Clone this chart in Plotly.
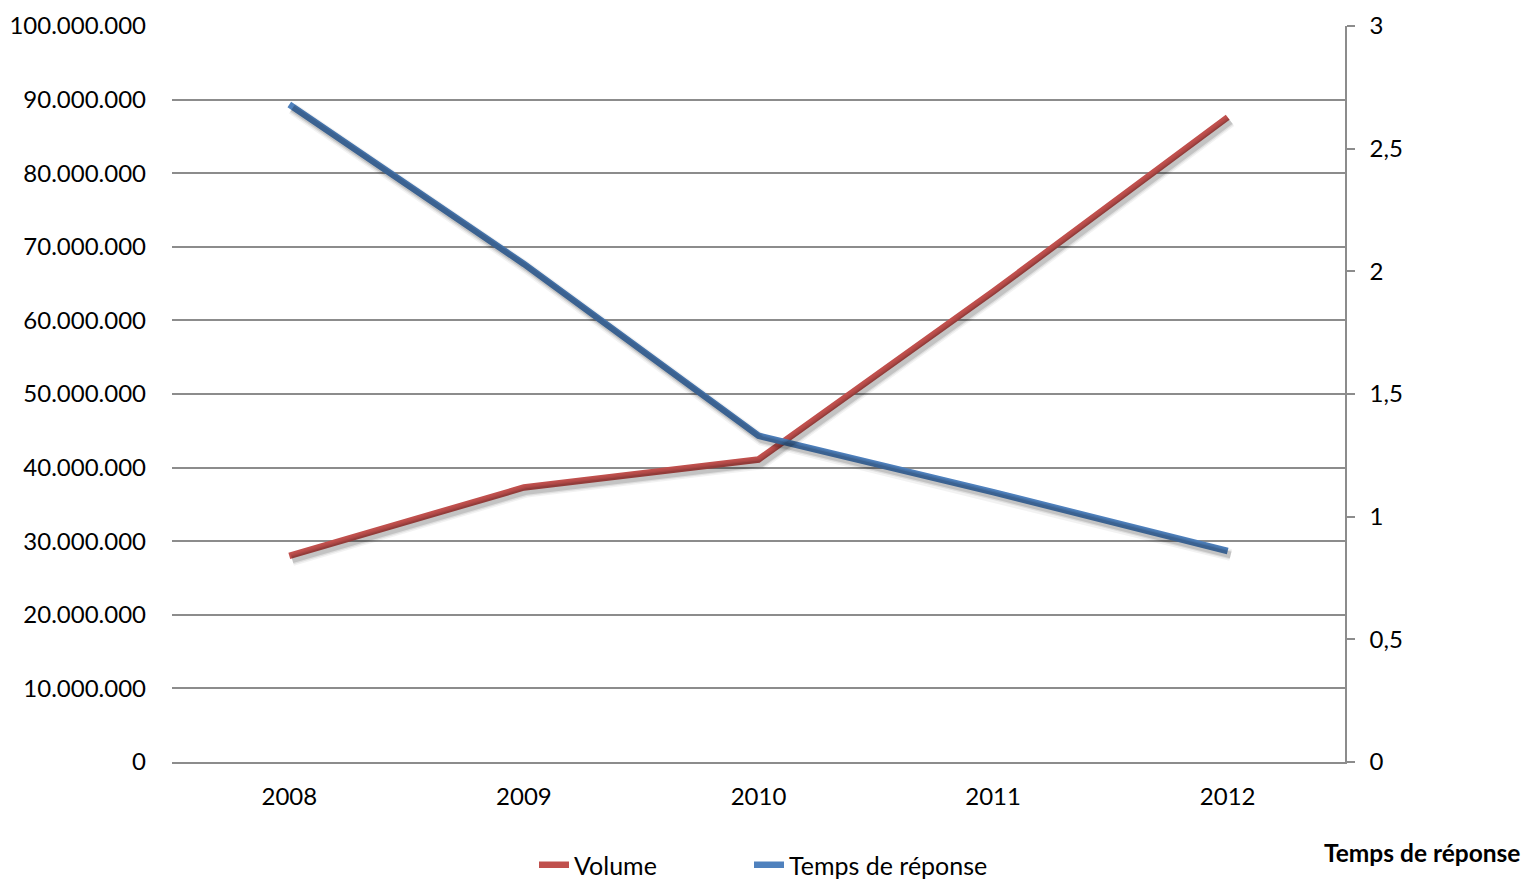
import plotly.graph_objects as go

# Data
years = ["2008", "2009", "2010", "2011", "2012"]
volume = [28_000_000, 37_300_000, 41_100_000, 63_900_000, 87_600_000]
temps_reponse = [2.68, 2.03, 1.33, 1.10, 0.86]

RED = "#C0504D"
BLUE = "#4F81BD"
GRID = "#8C8C8C"
FONT = "Lato"

W, H = 1525, 879
L, R, T, B = 172, 180, 26, 117
plot_w = W - L - R
plot_h = H - T - B

y1_max = 100_000_000
y2_max = 3

# Shadow offset (px) expressed as a shift of the shadow axes' ranges
sx, sy = 3, 4
dx = sx / (plot_w / len(years))
dy1 = sy / plot_h * y1_max
dy2 = sy / plot_h * y2_max

fig = go.Figure()

# drop shadows (drawn on hidden overlay axes shifted a few pixels right/down)
for width, alpha in [(12, 0.05), (9, 0.08), (6.5, 0.12)]:
    fig.add_trace(go.Scatter(x=years, y=volume, mode="lines", xaxis="x2", yaxis="y3",
                             line=dict(color=f"rgba(0,0,0,{alpha})", width=width),
                             showlegend=False, hoverinfo="skip"))
    fig.add_trace(go.Scatter(x=years, y=temps_reponse, mode="lines", xaxis="x2", yaxis="y4",
                             line=dict(color=f"rgba(0,0,0,{alpha})", width=width),
                             showlegend=False, hoverinfo="skip"))

fig.add_trace(go.Scatter(x=years, y=volume, mode="lines", name="Volume",
                         line=dict(color=RED, width=6.5), yaxis="y", legend="legend"))
fig.add_trace(go.Scatter(x=years, y=temps_reponse, mode="lines", name="Temps de réponse",
                         line=dict(color=BLUE, width=6.5), yaxis="y2", legend="legend2"))

tick_font = dict(family=FONT, size=24, color="#000000")
legend_common = dict(orientation="h", xref="container", yref="container",
                     xanchor="left", yanchor="middle",
                     y=(H - 865) / H, font=dict(family=FONT, size=25, color="#000000"),
                     bgcolor="rgba(0,0,0,0)", borderwidth=0)

fig.update_layout(
    width=W, height=H,
    margin=dict(l=L, r=R, t=T, b=B, autoexpand=False),
    paper_bgcolor="white", plot_bgcolor="white",
    separators=",.",
    font=dict(family=FONT, size=24, color="#000000"),
    xaxis=dict(type="category", range=[-0.5, 4.5], showgrid=False, zeroline=False,
               showline=True, linecolor=GRID, linewidth=1.5, ticks="",
               tickfont=tick_font, ticklabelstandoff=12, automargin=False),
    xaxis2=dict(type="category", range=[-0.5 - dx, 4.5 - dx], overlaying="x",
                visible=False, showgrid=False),
    yaxis=dict(range=[0, y1_max], dtick=10_000_000, tickformat=",.0f",
               showgrid=True, gridcolor=GRID, gridwidth=1.5, zeroline=False,
               showline=False, ticks="", tickfont=tick_font, ticklabelstandoff=25,
               automargin=False),
    yaxis2=dict(range=[0, y2_max], dtick=0.5, overlaying="y", side="right",
                showgrid=False, zeroline=False, showline=True, linecolor=GRID,
                linewidth=1.5, ticks="outside", ticklen=8, tickcolor=GRID,
                tickwidth=1.5, tickfont=tick_font, ticklabelstandoff=10,
                automargin=False),
    yaxis3=dict(range=[dy1, y1_max + dy1], overlaying="y", visible=False,
                showgrid=False),
    yaxis4=dict(range=[dy2, y2_max + dy2], overlaying="y", visible=False,
                showgrid=False),
    legend=dict(x=534 / W, **legend_common),
    legend2=dict(x=749 / W, **legend_common),
    showlegend=True,
    annotations=[dict(text="<b>Temps de réponse</b>", xref="paper", yref="paper",
                      x=(1522 - L) / plot_w, xanchor="right",
                      y=-(852 - 762) / plot_h, yanchor="middle",
                      showarrow=False, font=dict(family=FONT, size=24.5))],
)

fig.write_html("out.html")
